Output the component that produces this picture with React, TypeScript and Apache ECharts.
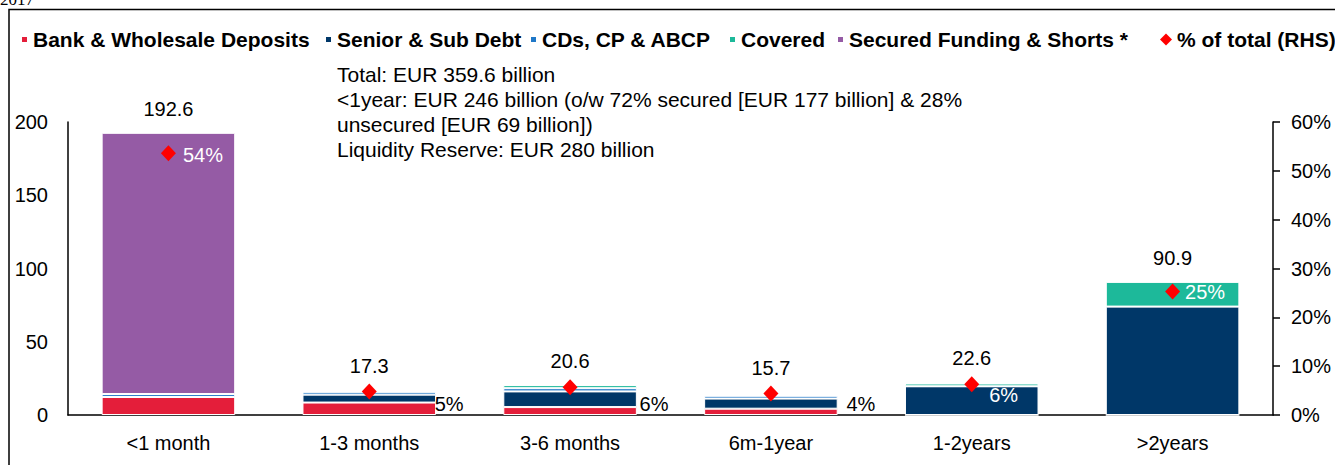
import React, { useEffect, useRef } from "react";
import * as echarts from "echarts";

const categories = ["<1 month", "1-3 months", "3-6 months", "6m-1year", "1-2years", ">2years"];
const bankDeposits = [12.3, 8.5, 5.4, 4.3, 0, 0];
const seniorSub = [0, 5.4, 10.7, 6.9, 19.6, 74.0];
const cdsCp = [2.0, 2.0, 2.2, 2.0, 0, 0];
const covered = [0, 0, 2.1, 0, 1.9, 16.9];
const secured = [178.3, 0, 0, 0, 0, 0];
const totals = [192.6, 17.3, 20.6, 15.7, 22.6, 90.9];
const pctOfTotal = [53.6, 4.8, 5.7, 4.4, 6.3, 25.3];
const annotationLines = [
  "Total: EUR 359.6 billion",
  "<1year: EUR 246 billion (o/w 72% secured [EUR 177 billion] & 28%",
  "unsecured [EUR 69 billion])",
  "Liquidity Reserve: EUR 280 billion",
];

const FONT = "'Liberation Sans', Arial, sans-serif";

// label styling per point for the % diamonds (colour, offset)
const pctLabelStyles = [
  { color: "#fff", offset: [2, 2] },
  { color: "#000", offset: [53, 12] },
  { color: "#000", offset: [57, 17] },
  { color: "#000", offset: [63, 10] },
  { color: "#fff", offset: [5, 11] },
  { color: "#fff", offset: [0, 1] },
];

const seriesDefs = [
  { name: "Bank & Wholesale Deposits", data: bankDeposits, color: "#E41E3A" },
  { name: "Senior & Sub Debt", data: seniorSub, color: "#003768" },
  { name: "CDs, CP & ABCP", data: cdsCp, color: "#1F78C8" },
  { name: "Covered", data: covered, color: "#1DB99A" },
  { name: "Secured Funding & Shorts *", data: secured, color: "#955BA5" },
];
const legendLefts = [20, 324, 529, 728, 836];

export default function App() {
  const ref = useRef<HTMLDivElement>(null);
  useEffect(() => {
    if (!ref.current) return;
    const chart = echarts.init(ref.current, null, { renderer: "svg" });
    const legendText = { fontSize: 21, fontWeight: "bold", color: "#000", fontFamily: FONT };
    const legends: any[] = seriesDefs.map((s, i) => ({
      data: [{ name: s.name, icon: "rect" }],
      left: legendLefts[i],
      top: 29,
      padding: 0,
      itemWidth: 7,
      itemHeight: 7,
      selectedMode: false,
      textStyle: legendText,
    }));
    legends.push({
      data: [{ name: "% of total (RHS)", icon: "diamond" }],
      left: 1160,
      top: 29,
      padding: 0,
      itemWidth: 12,
      itemHeight: 12,
      selectedMode: false,
      textStyle: legendText,
    });

    const option: any = {
      animation: false,
      textStyle: { fontFamily: FONT },
      legend: legends,
      grid: { left: 68, right: 62, top: 122, bottom: 50 },
      xAxis: {
        type: "category",
        data: categories,
        axisLine: { lineStyle: { color: "#000", width: 1.5 } },
        axisTick: { show: false },
        axisLabel: { fontSize: 20, color: "#000", margin: 18, fontFamily: FONT },
      },
      yAxis: [
        {
          type: "value",
          min: 0,
          max: 200,
          interval: 50,
          axisLine: { show: true, lineStyle: { color: "#000", width: 1.5 } },
          axisTick: { show: false },
          splitLine: { show: false },
          axisLabel: { fontSize: 20, color: "#000", margin: 20, fontFamily: FONT },
        },
        {
          type: "value",
          min: 0,
          max: 60,
          interval: 10,
          position: "right",
          axisLine: { show: true, lineStyle: { color: "#000", width: 1.5 } },
          axisTick: { show: true, length: 7, lineStyle: { color: "#000", width: 1.5 } },
          splitLine: { show: false },
          axisLabel: { fontSize: 20, color: "#000", margin: 18, formatter: "{value}%", fontFamily: FONT },
        },
      ],
      graphic: [
        {
          type: "rect",
          shape: { x: 9, y: 9.5, width: 2000, height: 1000 },
          style: { fill: "none", stroke: "#000", lineWidth: 1.5 },
          silent: true,
        },
        {
          type: "text",
          left: 0,
          top: -9,
          style: { text: "2017", fontSize: 17, fontFamily: "'Liberation Serif', serif", fill: "#000" },
          silent: true,
        },
        {
          type: "text",
          left: 337,
          top: 62,
          style: {
            text: annotationLines.join("\n"),
            fontSize: 21,
            lineHeight: 25,
            fontFamily: FONT,
            fill: "#000",
          },
          silent: true,
        },
      ],
      series: [
        ...seriesDefs.map((s) => ({
          name: s.name,
          type: "bar",
          stack: "total",
          data: s.data,
          barWidth: "66.5%",
          itemStyle: { color: s.color, borderColor: "#fff", borderWidth: 1 },
          silent: true,
        })),
        {
          name: "Total",
          type: "scatter",
          data: totals,
          symbolSize: 0,
          silent: true,
          itemStyle: { opacity: 1 },
          label: {
            show: true,
            position: "top",
            distance: 14,
            fontSize: 20,
            color: "#000",
            fontFamily: FONT,
          },
        },
        {
          name: "% of total (RHS)",
          type: "scatter",
          yAxisIndex: 1,
          symbol: "diamond",
          symbolSize: [15, 16],
          itemStyle: { color: "#FF0000", opacity: 1 },
          silent: true,
          z: 5,
          data: pctOfTotal.map((v, i) => ({
            value: v,
            label: {
              show: true,
              position: "right",
              distance: 5,
              fontSize: 20,
              fontFamily: FONT,
              color: pctLabelStyles[i].color,
              offset: pctLabelStyles[i].offset,
              formatter: () => Math.round(v) + "%",
            },
          })),
        },
      ],
    };
    chart.setOption(option);
    return () => chart.dispose();
  }, []);
  return (
    <div
      ref={ref}
      style={{ position: "absolute", left: 0, top: 0, width: 1335, height: 465, background: "#fff" }}
    />
  );
}
